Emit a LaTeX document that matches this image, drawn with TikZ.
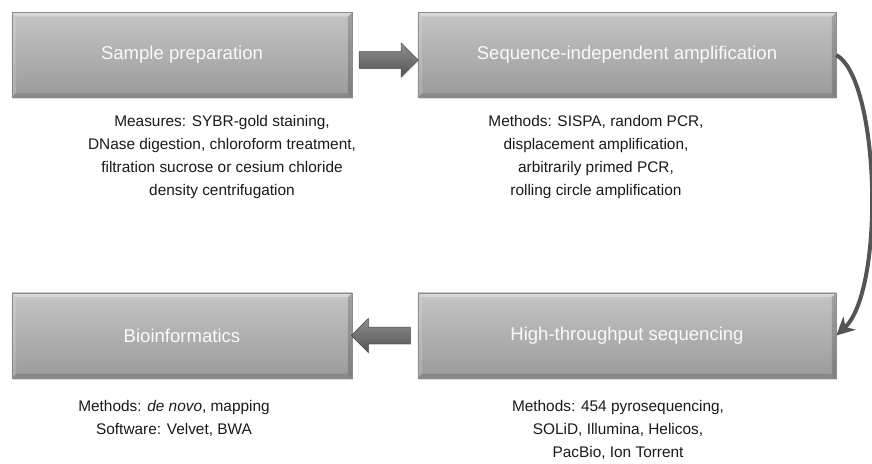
\documentclass[tikz,border=0pt]{standalone}
\usepackage{fontspec}
\setmainfont{Liberation Sans}
\usetikzlibrary{shapes.arrows,shadows,arrows.meta}

\definecolor{boxtop}{HTML}{C4C4C4}
\definecolor{boxbot}{HTML}{9B9B9B}
\definecolor{boxline}{HTML}{8C8C8C}
\definecolor{arrtop}{HTML}{8E8E8E}
\definecolor{arrbot}{HTML}{555555}
\definecolor{curvegray}{HTML}{555555}

\tikzset{
  bevel/.style={path picture={
    \fill[white,opacity=0.35] (path picture bounding box.north west) -- (path picture bounding box.north east)
      -- ([shift={(-3pt,-3pt)}]path picture bounding box.north east) -- ([shift={(3pt,-3pt)}]path picture bounding box.north west) -- cycle;
    \fill[white,opacity=0.15] (path picture bounding box.north west) -- ([shift={(3pt,-3pt)}]path picture bounding box.north west)
      -- ([shift={(3pt,3pt)}]path picture bounding box.south west) -- (path picture bounding box.south west) -- cycle;
    \fill[black,opacity=0.18] (path picture bounding box.north east) -- (path picture bounding box.south east)
      -- ([shift={(-3pt,3pt)}]path picture bounding box.south east) -- ([shift={(-3pt,-3pt)}]path picture bounding box.north east) -- cycle;
    \fill[black,opacity=0.12] (path picture bounding box.south west) -- (path picture bounding box.south east)
      -- ([shift={(-3pt,3pt)}]path picture bounding box.south east) -- ([shift={(3pt,3pt)}]path picture bounding box.south west) -- cycle;
  }},
  stepbox/.style={rectangle, minimum height=2.125cm, inner sep=0pt,
    top color=boxtop, bottom color=boxbot, draw=boxline, bevel,
    drop shadow={opacity=0.3,shadow xshift=0.8pt,shadow yshift=-1.2pt},
    text=white!96!gray, font=\fontsize{13.2}{15}\selectfont},
  desc/.style={align=center, anchor=north, inner sep=0pt, text=black!90,
    font=\fontsize{10.95}{16.4}\selectfont},
  blockarrow/.style={single arrow, single arrow head extend=0.22cm,
    inner xsep=0pt, inner ysep=0.2cm, minimum height=1.475cm,
    top color=arrtop, bottom color=arrbot, draw=arrbot!90!black,
    drop shadow={opacity=0.25,shadow xshift=0.6pt,shadow yshift=-0.8pt}},
  flowarrow/.style={draw=curvegray, line width=0.1cm,
    -{Stealth[length=0.45cm,width=0.45cm,inset=0.14cm]}}
}

\begin{document}
\begin{tikzpicture}[x=0.025cm,y=-0.025cm]
\useasboundingbox (0,0) rectangle (872,464);

% boxes
\node[stepbox, minimum width=8.5cm]   (prep) at (182,55)    {Sample preparation};
\node[stepbox, minimum width=10.45cm] (seq)  at (627,55)    {Sequence-independent amplification};
\node[stepbox, minimum width=8.5cm]   (bio)  at (182,335.5) {Bioinformatics};
\node[stepbox, minimum width=10.45cm] (hts)  at (627,335.5) {High-throughput sequencing};

%--------------------------------------------------------

\node[desc] (preptext) at (222,115) {Measures: SYBR-gold staining,\\
  DNase digestion, chloroform treatment,\\
  filtration sucrose or cesium chloride\\
  density centrifugation};
\node[desc] (seqtext) at (596,115) {Methods: SISPA, random PCR,\\
  displacement amplification,\\
  arbitrarily primed PCR,\\
  rolling circle amplification};
\node[desc] (biotext) at (174,400) {Methods: \textit{de novo}, mapping\\
  Software: Velvet, BWA};
\node[desc] (htstext) at (618,400) {Methods: 454 pyrosequencing,\\
  SOLiD, Illumina, Helicos,\\
  PacBio, Ion Torrent};

%--------------------------------------------------------

\node[blockarrow] (prep2seq) at (384.5,60) {};
\node[blockarrow, shape border rotate=180] (hts2bio) at (385,335.5) {};

\draw[flowarrow] (seq.east) .. controls (880,80) and (885,290) .. (hts.east);

\end{tikzpicture}
\end{document}
